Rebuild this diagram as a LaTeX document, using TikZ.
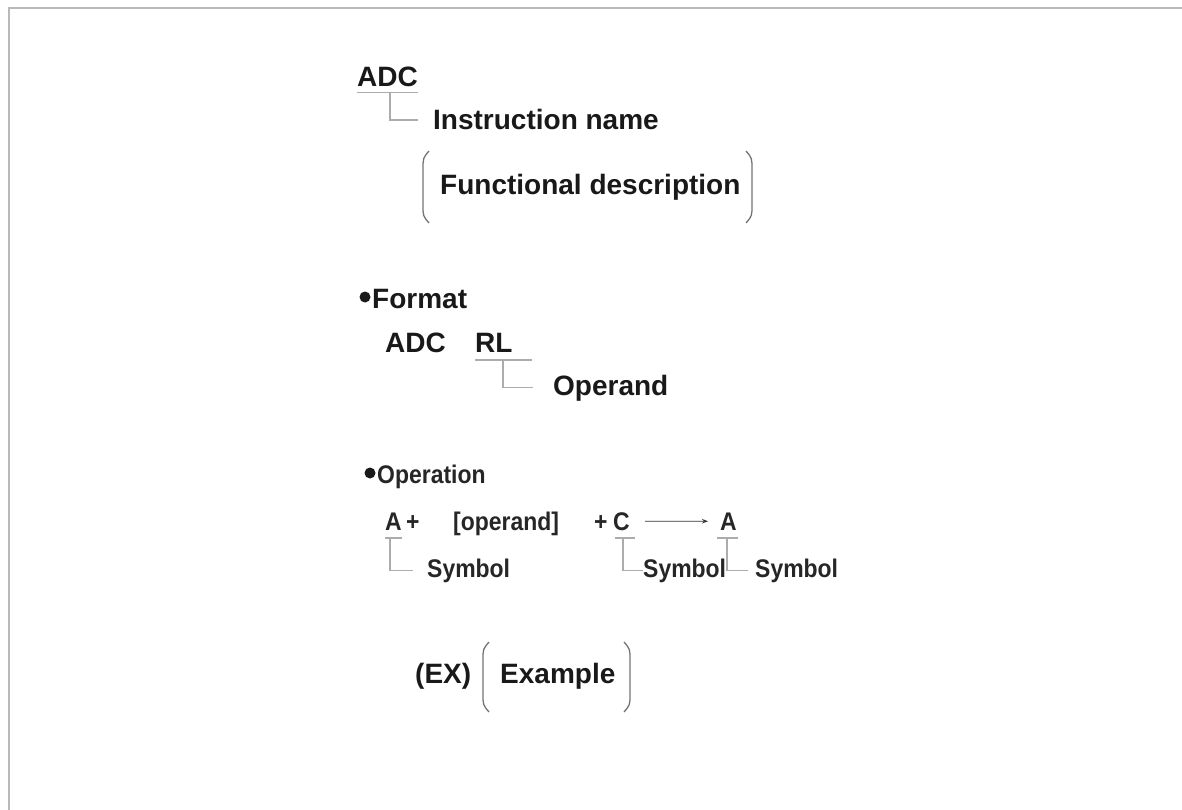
\documentclass[tikz,border=0pt]{standalone}
\usepackage{fontspec}
\setmainfont{Liberation Sans}
\newfontfamily\opfont[FakeStretch=0.9]{Liberation Sans}
\usetikzlibrary{arrows.meta}
\begin{document}
\begin{tikzpicture}[x=1pt,y=-1pt,
    big/.style={anchor=base west, inner sep=0pt, text=black!90, font=\fontsize{28}{32}\selectfont\bfseries},
    small/.style={anchor=base west, inner sep=0pt, text=black!85, font=\opfont\fontsize{25.5}{30}\selectfont\bfseries},
    lead/.style={draw=gray!65, line width=1.1pt},
    paren/.style={draw=black!55, line width=1.3pt},
    dot/.style={circle, fill=black!90, inner sep=0pt, minimum size=11pt}]
      \useasboundingbox (0,0) rectangle (1182,810);
      \draw[draw=gray!55, line width=2.5pt] (9,810) -- (9,8) -- (1182,8);

      \node[big] (adc) at (357,87){ADC};
      \node[big] (instr) at (433,130){Instruction name};
      \node[big] (func) at (440,195){Functional description};
      \coordinate (adcu) at (390,92);
      \draw[lead] ([yshift=-5pt]adc.south west) -- ([yshift=-5pt]adc.south east);
      \draw[lead] (adcu) |- ([xshift=-15pt]instr.west);
      \draw[paren] (429,151) .. controls (423,158) .. (423,170) -- (423,205) .. controls (423,216) .. (429,223);
      \draw[paren] (746,151) .. controls (752,158) .. (752,170) -- (752,205) .. controls (752,216) .. (746,223);

      \node[dot] (fmtdot) at (365,297){};
      \node[big] (fmt) at (372,308){Format};
      \node[big] (fmtadc) at (385,352){ADC};
      \node[big] (fmtrl) at (475,352){RL};
      \node[big] (oprnd) at (553,395){Operand};
      \coordinate (rlu) at (503,360);
      \draw[lead] (475,360) -- (532,360);
      \draw[lead] (rlu) |- ([xshift=-20pt]oprnd.west);

      \node[dot] (opdot) at (370,473){};
      \node[small] (oper) at (377,483){Operation};
      \node[small] (opa) at (385,530){A};
      \node[small] (opplus) at (406,530){+};
      \node[small] (opbr) at (453,530){[operand]};
      \node[small] (opplusc) at (594,530){+};
      \node[small] (opc) at (613,530){C};
      \node[small] (opres) at (720,530){A};
      \draw[draw=black!80, line width=0.9pt, -{Stealth[length=6pt, width=4.5pt]}, shorten <=15pt, shorten >=12pt] (opc.east) -- (opres.west);
      \node[small] (sym1) at (427,577){Symbol};
      \node[small] (sym2) at (643,577){Symbol};
      \node[small] (sym3) at (755,577){Symbol};
      \coordinate (au) at (390,538);
      \coordinate (cu) at (623,538);
      \coordinate (resu) at (727,538);
      \draw[lead] (385,538) -- (402,538);
      \draw[lead] (615,538) -- (635,538);
      \draw[lead] (717,538) -- (738,538);
      \draw[lead] (au) |- ([xshift=-14pt]sym1.west);
      \draw[lead] (cu) |- (sym2.west);
      \draw[lead] (resu) |- ([xshift=-7pt]sym3.west);

      \node[big] (ex) at (415,683){(EX)};
      \node[big] (exmpl) at (500,683){Example};
      \draw[paren] (489,642) .. controls (483,649) .. (483,660) -- (483,694) .. controls (483,705) .. (489,712);
      \draw[paren] (624,642) .. controls (630,649) .. (630,660) -- (630,694) .. controls (630,705) .. (624,712);

    \end{tikzpicture}
\end{document}
